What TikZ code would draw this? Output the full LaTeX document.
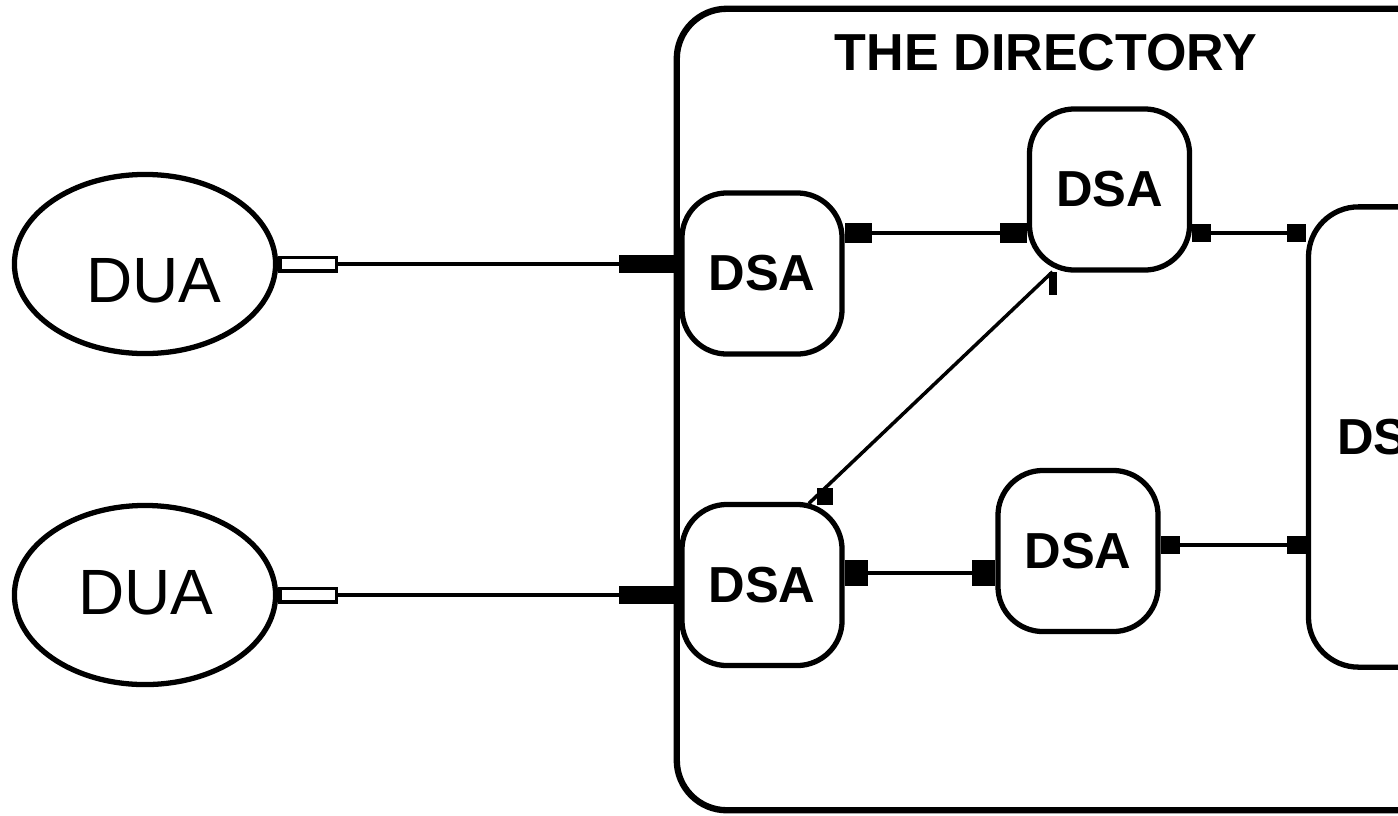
\documentclass[tikz,border=0pt]{standalone}
\usepackage{fontspec}
\setmainfont{Liberation Sans}
\usetikzlibrary{shapes.geometric, arrows.meta, positioning, calc}

\tikzset{
  duaend/.tip={Rectangle[open,length=6mm,width=1.7mm]},
  dirend/.tip={Rectangle[length=5.5mm,width=1.8mm]},
  topend/.tip={Rectangle[length=2.7mm,width=1.9mm]},
  lowend/.tip={Rectangle[length=2.3mm,width=2.6mm]},
  bigend/.tip={Rectangle[length=1.9mm,width=1.8mm]}
}

\begin{document}
\begin{tikzpicture}[x=0.01cm, y=-0.01cm,
    box/.style={draw, line width=1.5pt, rounded corners=0.45cm, inner sep=0pt},
    dsa/.style={box, minimum width=1.6cm, minimum height=1.61cm, font=\bfseries\fontsize{14.4}{16}\selectfont},
    dua/.style={draw, ellipse, line width=1.5pt, minimum width=2.61cm, minimum height=1.79cm, inner sep=0pt},
    duatext/.style={font=\fontsize{18.2}{20}\selectfont, inner sep=0pt},
    link/.style={line width=1pt},
    port/.style={fill=black, inner sep=0pt}]
  \useasboundingbox (0,0) rectangle (1398,815);
  % The directory
  \node[box, line width=1.8pt, rounded corners=0.5cm, minimum width=8.43cm, minimum height=8.01cm] (dir) at (1098.5,409.5) {};
  \node[font=\bfseries\fontsize{14.8}{17}\selectfont, inner sep=0pt] (title) at (1046,53) {THE DIRECTORY};
  % DSAs
  \node[dsa] (dsa1) at (762,273.5) {DSA};
  \node[dsa] (dsa2) at (1109.5,189.5) {DSA};
  \node[dsa] (dsa3) at (762,585) {DSA};
  \node[dsa] (dsa4) at (1078,551) {DSA};
  \node[dsa, rounded corners=0.5cm, minimum width=1.64cm, minimum height=4.6cm] (dsa5) at (1390.5,437) {DSA};
  % DUAs
  \node[dua] (dua1) at (145,264) {};
  \node[dua] (dua2) at (145,595) {};
  \node[duatext] (dua1text) at (154,281) {DUA};
  \node[duatext] (dua2text) at (146,593) {DUA};
  % DUA to directory
  \draw[link, duaend-dirend] (dua1.east) -- (dua1.east -| dir.west);
  \draw[link, duaend-dirend] (dua2.east) -- (dua2.east -| dir.west);
  % DSA to DSA
  \draw[link, topend-topend] (dsa1.east |- 0,233) -- (dsa2.west |- 0,233);
  \draw[link, bigend-bigend] (dsa2.east |- 0,233) -- (dsa5.west |- 0,233);
  \draw[link, lowend-lowend] (dsa3.east |- 0,573) -- (dsa4.west |- 0,573);
  \draw[link, bigend-bigend] (dsa4.east |- 0,545) -- (dsa5.west |- 0,545);
  % Diagonal link
  \node[port, minimum width=0.16cm, minimum height=0.17cm] (pd1) at (824.5,496.5) {};
  \node[port, minimum width=0.08cm, minimum height=0.22cm] (pd2) at (1052.5,283.5) {};
  \draw[link] ($(pd1.west)+(-7,7)$) -- (pd2.north);
\end{tikzpicture}
\end{document}
